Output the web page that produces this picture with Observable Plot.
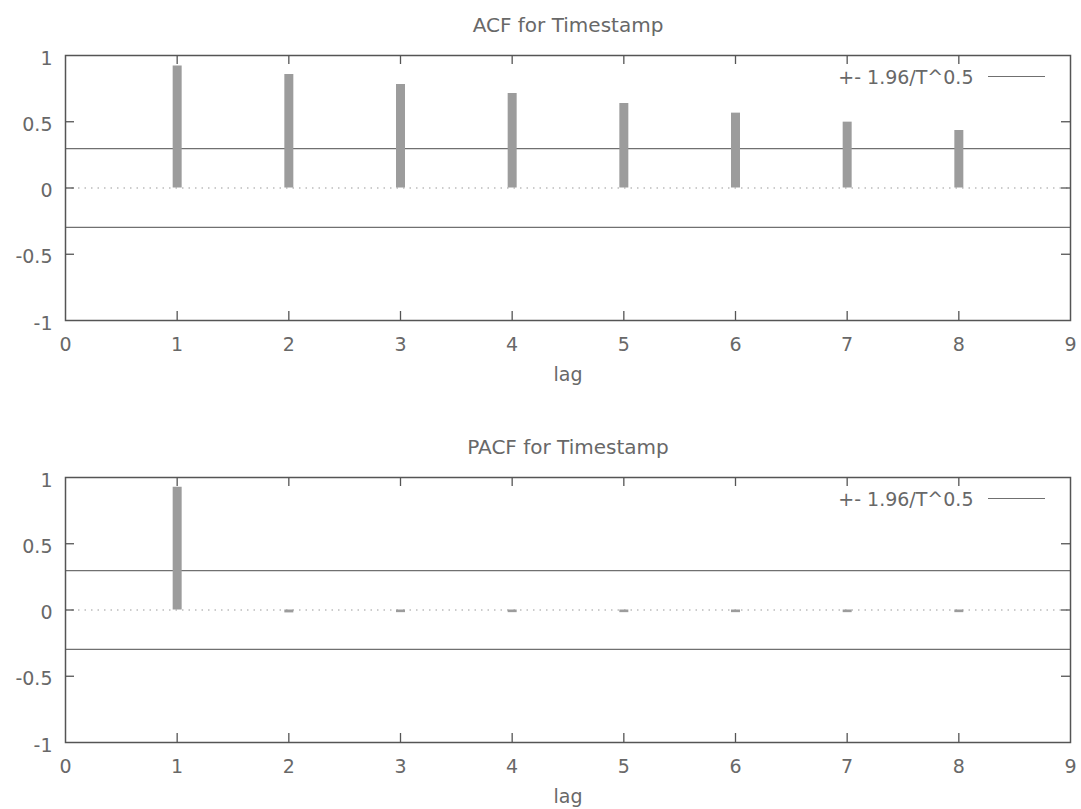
<!DOCTYPE html>
<html><head><meta charset="utf-8">
<script src="https://cdn.jsdelivr.net/npm/d3@7"></script>
<script src="https://cdn.jsdelivr.net/npm/@observablehq/plot@0.6"></script>
<style>body{margin:0;background:#fff} svg{display:block}</style>
</head><body><div id="chart"></div>
<script>
const lags = [1, 2, 3, 4, 5, 6, 7, 8];
const acfValues = [0.92, 0.857, 0.781, 0.713, 0.638, 0.565, 0.497, 0.434];
const pacfValues = [0.927, -0.022, -0.02, -0.02, -0.02, -0.02, -0.02, -0.02];
const bound = 0.297;
const xTicks = [0, 1, 2, 3, 4, 5, 6, 7, 8, 9];
const yTicks = [-1, -0.5, 0, 0.5, 1];
const titles = ["ACF for Timestamp", "PACF for Timestamp"];
const legendLabel = "+- 1.96/T^0.5";
const xLabel = "lag";

const W = 1081, ML = 65, MR = 11;
const INK = "#555";

function panel(title, values, {height, marginTop, marginBottom}) {
  const data = lags.map((lag, i) => ({lag, value: values[i]}));
  const frameH = height - marginTop - marginBottom;
  const frameW = W - ML - MR;
  const xDom = [xTicks[0], xTicks[xTicks.length - 1]];
  const yDom = [yTicks[0], yTicks[yTicks.length - 1]];
  const pxY = (yDom[1] - yDom[0]) / frameH; // data units per px (y)
  const pxX = (xDom[1] - xDom[0]) / frameW; // data units per px (x)
  const tick = 9;
  const innerX = xTicks.filter(d => d > xDom[0] && d < xDom[1]);
  const innerY = yTicks.filter(d => d > yDom[0] && d < yDom[1]);
  const legY = yDom[1] - 21 * pxY;
  const legX1 = xDom[0] + (988 - ML) * pxX;
  const legX2 = xDom[0] + (1045 - ML) * pxX;
  return Plot.plot({
    width: W, height, marginTop, marginBottom, marginLeft: ML, marginRight: MR,
    x: {domain: xDom},
    y: {domain: yDom},
    style: {fontFamily: "DejaVu Sans", fontSize: "19px", color: "#686868", background: "#fff"},
    marks: [
      Plot.ruleY([0], {stroke: "#9a9a9a", strokeWidth: 1.2, strokeDasharray: "1.5,5"}),
      Plot.ruleY([bound, -bound], {stroke: "#707070", strokeWidth: 1.2}),
      Plot.ruleX(data, {x: "lag", y1: 0, y2: "value", stroke: "#9c9c9c", strokeWidth: 9}),
      // inward ticks (gnuplot style, mirrored)
      Plot.ruleX(innerX, {x: d => d, y1: yDom[0], y2: yDom[0] + tick * pxY, stroke: INK, strokeWidth: 1.3}),
      Plot.ruleX(innerX, {x: d => d, y1: yDom[1], y2: yDom[1] - tick * pxY, stroke: INK, strokeWidth: 1.3}),
      Plot.ruleY(innerY, {y: d => d, x1: xDom[0], x2: xDom[0] + tick * pxX, stroke: INK, strokeWidth: 1.3}),
      Plot.ruleY(innerY, {y: d => d, x1: xDom[1], x2: xDom[1] - tick * pxX, stroke: INK, strokeWidth: 1.3}),
      Plot.frame({stroke: INK, strokeWidth: 1.5}),
      Plot.axisX(xTicks, {tickSize: 0, tickPadding: 17, tickFormat: d => String(d), label: null}),
      Plot.axisY(yTicks, {tickSize: 0, tickPadding: 13, tickFormat: d => String(d), label: null, dy: 3}),
      Plot.text([title], {frameAnchor: "top", lineAnchor: "bottom", dy: -24, fontSize: 20}),
      Plot.text([xLabel], {frameAnchor: "bottom", lineAnchor: "top", dy: 47}),
      Plot.text([legendLabel], {frameAnchor: "top-right", textAnchor: "end", lineAnchor: "middle", dx: -97, dy: 22}),
      Plot.ruleY([legY], {x1: legX1, x2: legX2, stroke: "#707070", strokeWidth: 1.2})
    ]
  });
}

const root = document.getElementById("chart");
root.append(panel(titles[0], acfValues, {height: 420, marginTop: 55, marginBottom: 100}));
root.append(panel(titles[1], pacfValues, {height: 389, marginTop: 57, marginBottom: 67}));
</script>
</body></html>
